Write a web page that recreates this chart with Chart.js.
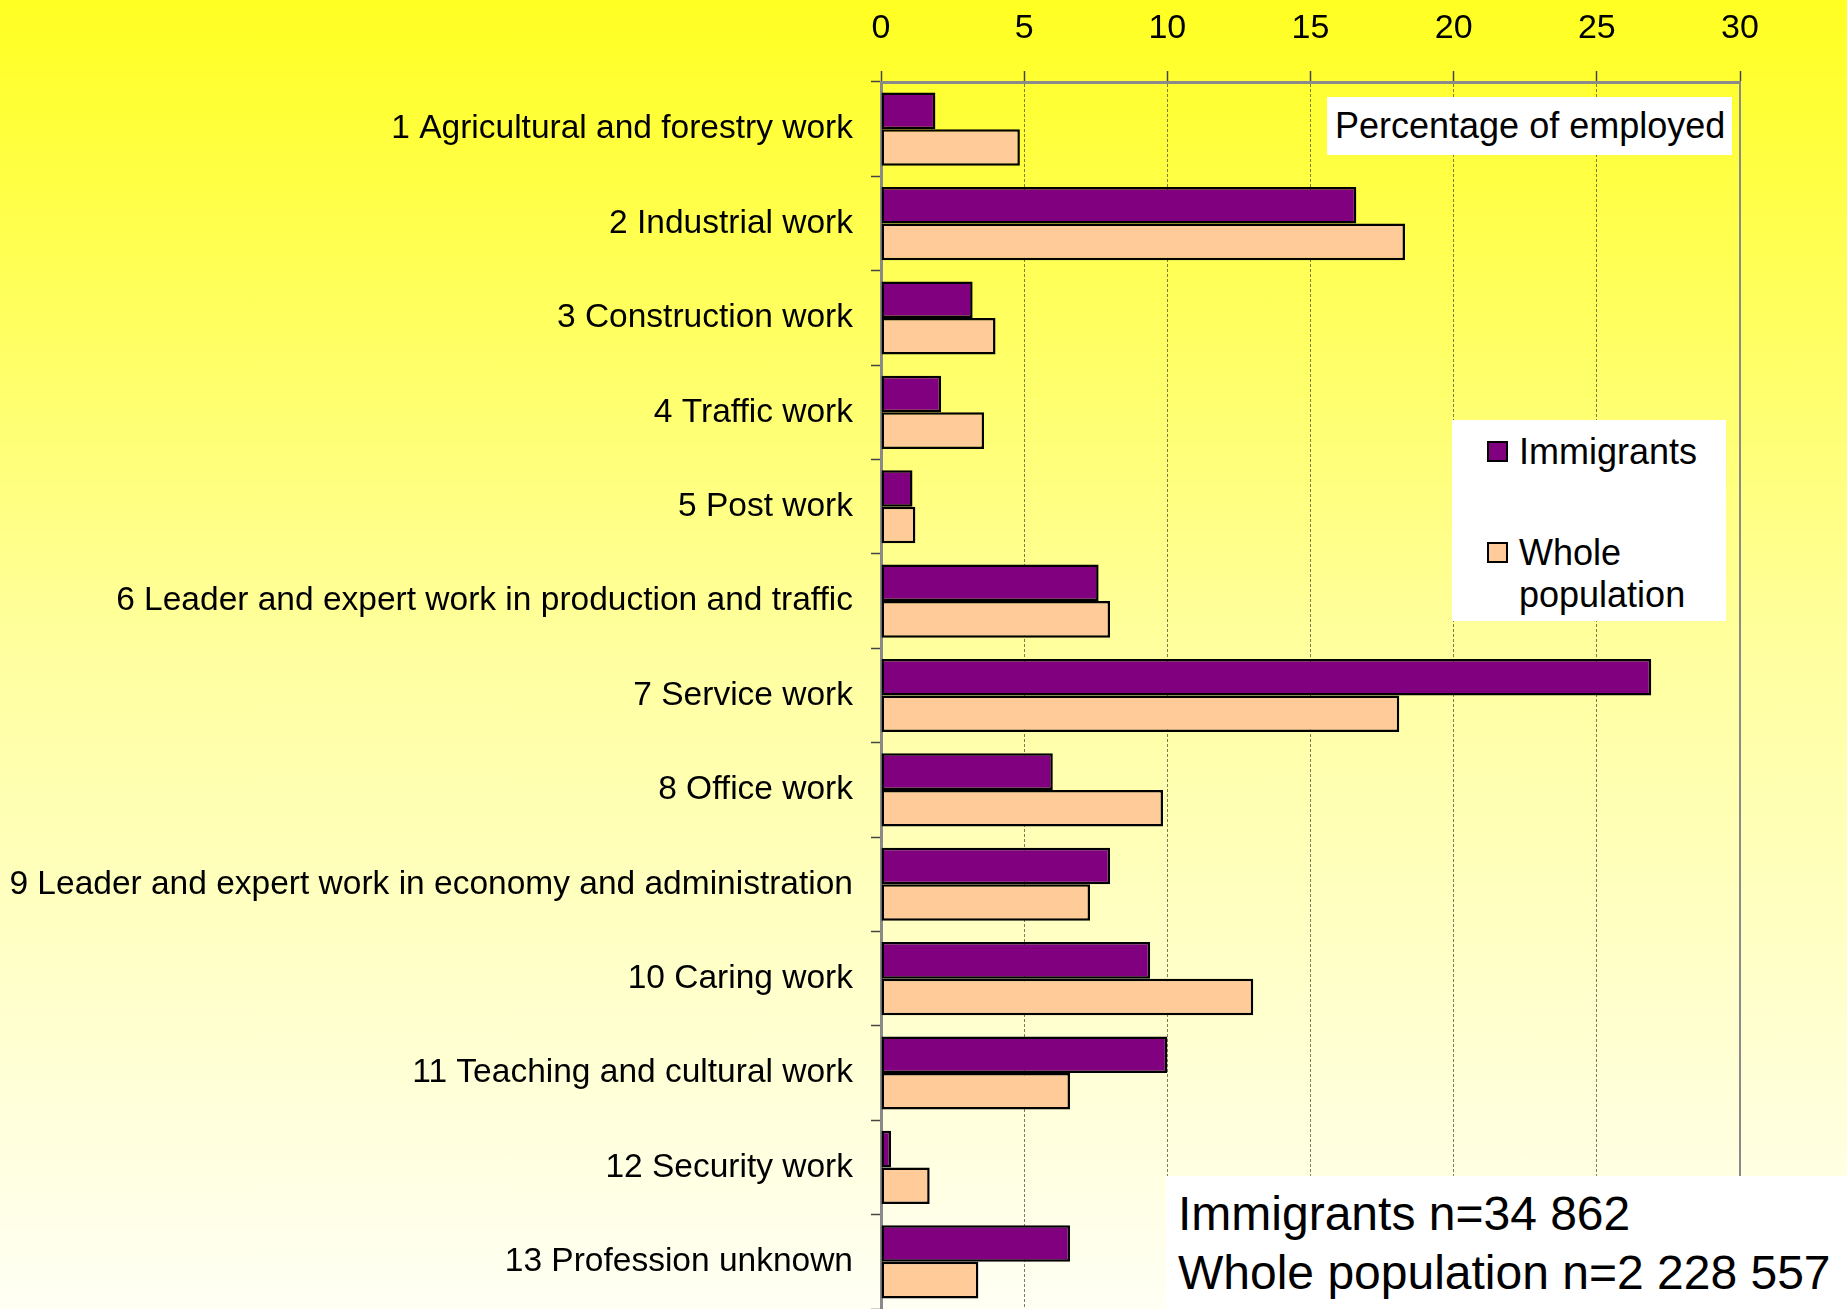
<!DOCTYPE html>
<html>
<head>
<meta charset="utf-8">
<title>Percentage of employed</title>
<script src="https://cdn.jsdelivr.net/npm/chart.js@4.4.1/dist/chart.umd.min.js"></script>
<style>
    body {
        margin: 0;
        width: 1847px;
        height: 1309px;
        overflow: hidden;
        background: linear-gradient(to bottom, #ffff22 0%, #ffffa0 50%, #fffff4 100%);
        font-family: 'Liberation Sans', Arial, sans-serif;
        color: #000;
    }
    .wrap { position: relative; width: 1847px; height: 1309px; }
    canvas { position: absolute; left: 0; top: 0; }
    .box { position: absolute; background: #fff; }
    #titleBox {
        left: 1327px; top: 97px; width: 405px; height: 58px;
        font-size: 36px; line-height: 58px; padding-left: 8px; box-sizing: border-box;
    }
    #legendBox {
        left: 1452px; top: 420px; width: 274px; height: 201px;
        font-size: 36px; line-height: 42px;
    }
    .leg { position: absolute; left: 35px; }
    .leg span.sw {
        position: absolute; left: 0; top: 10px; width: 17px; height: 17px;
        border: 2px solid #000;
    }
    .leg span.tx { display: block; margin-left: 32px; }
    #nBox {
        left: 1166px; top: 1176px; width: 681px; height: 133px;
        font-size: 48px; line-height: 59px; padding: 8px 0 0 12px; box-sizing: border-box;
    }
</style>
</head>
<body>
<div class="wrap">
    <canvas id="myChart" width="1847" height="1309"></canvas>
    <div class="box" id="titleBox">Percentage of employed</div>
    <div class="box" id="legendBox"></div>
    <div class="box" id="nBox"></div>
</div>

<script>
// données
const categories = [
    '1 Agricultural and forestry work',
    '2 Industrial work',
    '3 Construction work',
    '4 Traffic work',
    '5 Post work',
    '6 Leader and expert work in production and traffic',
    '7 Service work',
    '8 Office work',
    '9 Leader and expert work in economy and administration',
    '10 Caring work',
    '11 Teaching and cultural work',
    '12 Security work',
    '13 Profession unknown'
];
const immigrants = [1.9, 16.6, 3.2, 2.1, 1.1, 7.6, 26.9, 6.0, 8.0, 9.4, 10.0, 0.35, 6.6];
const wholePopulation = [4.85, 18.3, 4.0, 3.6, 1.2, 8.0, 18.1, 9.85, 7.3, 13.0, 6.6, 1.7, 3.4];
const seriesNames = ['Immigrants', 'Whole population'];
const seriesColors = ['#800080', '#ffcc99'];
const xTicks = [0, 5, 10, 15, 20, 25, 30];
const sampleSizes = ['Immigrants n=34 862', 'Whole population n=2 228 557'];

const font = "'Liberation Sans', Arial, sans-serif";

// cadre à droite de la zone de tracé
const rightFrame = {
    id: 'rightFrame',
    afterDraw(chart) {
        const a = chart.chartArea;
        const ctx = chart.ctx;
        ctx.save();
        ctx.strokeStyle = '#8a8a8a';
        ctx.lineWidth = 2;
        ctx.beginPath();
        ctx.moveTo(a.right, a.top);
        ctx.lineTo(a.right, a.bottom);
        ctx.stroke();
        ctx.restore();
    }
};

const ctx = document.getElementById('myChart').getContext('2d');
const myChart = new Chart(ctx, {
    type: 'bar',
    data: {
        labels: categories,
        datasets: [
            { label: seriesNames[0], data: immigrants },
            { label: seriesNames[1], data: wholePopulation }
        ].map((d, i) => Object.assign(d, {
            backgroundColor: seriesColors[i],
            borderColor: '#000',
            borderWidth: 2.5,
            borderSkipped: false,
            barPercentage: 1,
            categoryPercentage: 0.775
        }))
    },
    plugins: [rightFrame],
    options: {
        indexAxis: 'y',
        responsive: false,
        animation: false,
        layout: { padding: { left: 0, right: 107, top: 0, bottom: 0 } },
        plugins: {
            legend: { display: false },
            tooltip: { enabled: false }
        },
        scales: {
            x: {
                position: 'top',
                min: xTicks[0],
                max: xTicks[xTicks.length - 1],
                afterBuildTicks: s => { s.ticks = xTicks.map(v => ({ value: v })); },
                afterFit: s => { s.height = 82; },
                ticks: {
                    color: '#000',
                    font: { family: font, size: 34 },
                    padding: 22
                },
                grid: {
                    color: 'rgba(70,70,40,0.7)',
                    lineWidth: 1,
                    tickLength: 11,
                    tickColor: '#444',
                    tickWidth: 1.5,
                    tickBorderDash: []
                },
                border: { display: true, color: '#8a8a8a', width: 3, dash: [3, 2] }
            },
            y: {
                afterFit: s => {
                    s.width = 881;
                    s.paddingTop = 0;
                    s.paddingBottom = 0;
                },
                ticks: {
                    autoSkip: false,
                    color: '#000',
                    font: { family: font, size: 33.5 },
                    padding: 18
                },
                grid: {
                    drawOnChartArea: false,
                    tickLength: 10,
                    tickColor: '#444',
                    tickWidth: 1.5
                },
                border: { display: true, color: '#8a8a8a', width: 3 }
            }
        }
    }
});

// légende et effectifs en texte
const legendBox = document.getElementById('legendBox');
const legendTops = [11, 112];
myChart.data.datasets.forEach((ds, i) => {
    const item = document.createElement('div');
    item.className = 'leg';
    item.style.top = legendTops[i] + 'px';
    const sw = document.createElement('span');
    sw.className = 'sw';
    sw.style.background = ds.backgroundColor;
    const tx = document.createElement('span');
    tx.className = 'tx';
    tx.innerHTML = ds.label.replace(' ', '<br>');
    item.appendChild(sw);
    item.appendChild(tx);
    legendBox.appendChild(item);
});

document.getElementById('nBox').innerHTML = sampleSizes.join('<br>');
</script>
</body>
</html>
